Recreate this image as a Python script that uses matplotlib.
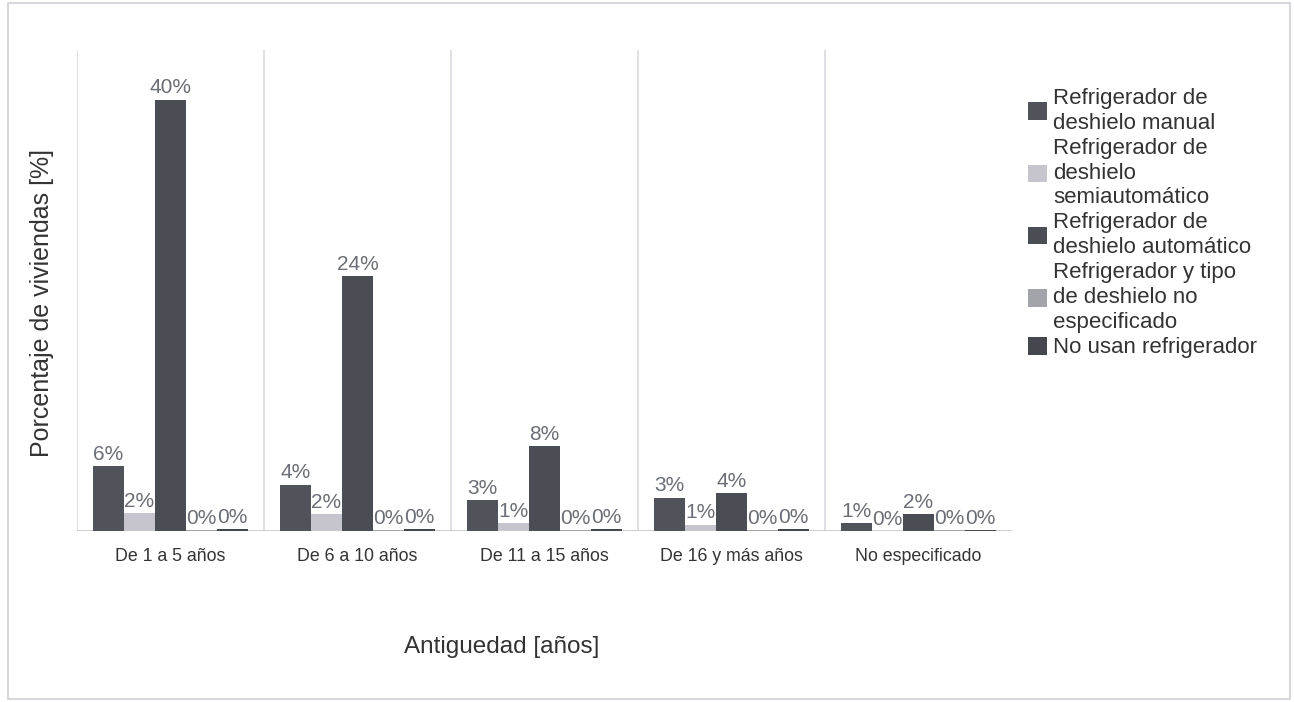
import numpy as np
import matplotlib
matplotlib.use("Agg")
import matplotlib.pyplot as plt
from matplotlib.patches import Rectangle

plt.rcParams['font.family'] = ['Liberation Sans', 'DejaVu Sans']

# antiguedad de la vivienda
categorias = ["De 1 a 5 años", "De 6 a 10 años", "De 11 a 15 años",
              "De 16 y más años", "No especificado"]

series = ["Refrigerador de\ndeshielo manual",
          "Refrigerador de\ndeshielo\nsemiautomático",
          "Refrigerador de\ndeshielo automático",
          "Refrigerador y tipo\nde deshielo no\nespecificado",
          "No usan refrigerador"]

# porcentaje de viviendas por serie
manual = [6.0, 4.3, 2.9, 3.1, 0.7]
semiautomatico = [1.7, 1.6, 0.7, 0.6, 0.0]
automatico = [40.0, 23.6, 7.9, 3.5, 1.6]
no_especificado = [0.05, 0.05, 0.05, 0.05, 0.05]
no_usan = [0.2, 0.2, 0.2, 0.2, 0.1]

valores = [manual, semiautomatico, automatico, no_especificado, no_usan]
colores = ["#505359", "#c6c5cd", "#4b4d55", "#a2a4aa", "#45474e"]

fig = plt.figure(figsize=(12.94, 7.02), dpi=100)
ax = fig.add_axes([77 / 1294, 1 - 531 / 702, 935 / 1294, 481 / 702])

x = np.arange(len(categorias))
w = 0.166
for i, (vals, c, nombre) in enumerate(zip(valores, colores, series)):
    pos = x + (i - 2) * w
    ax.bar(pos, vals, width=w, color=c, label=nombre, zorder=3)
    for p, v in zip(pos, vals):
        ax.text(p, v + 0.2, f"{v:.0f}%", ha="center", va="bottom",
                fontsize=15, color="#6b6e76", zorder=4)

# separadores entre grupos
for s in np.arange(-0.5, 4.0, 1.0):
    ax.axvline(s, color="#d9d9e1", lw=1.2, zorder=1)
ax.axhline(0, color="#c4c4cc", lw=1.2, zorder=2)

ax.set_xlim(-0.5, 4.5)
ax.set_ylim(0, 44.6)
ax.set_xticks(x)
ax.set_xticklabels(categorias, fontsize=12.8, color="#333333")
ax.tick_params(axis="x", length=0, pad=12)
ax.set_yticks([])
for sp in ax.spines.values():
    sp.set_visible(False)

fig.text(42 / 1294, 1 - 303 / 702, "Porcentaje de viviendas [%]", fontsize=18,
         color="#333333", rotation=90, ha="center", va="center")
fig.text(502 / 1294, 1 - 647 / 702, "Antiguedad [años]", fontsize=17.5,
         color="#333333", ha="center", va="center")

leg = fig.legend(loc="upper left", bbox_to_anchor=(1019 / 1294, 1 - 79 / 702),
                 frameon=False, fontsize=16, handlelength=0.85, handleheight=0.85,
                 handletextpad=0.3, labelspacing=0.18, borderaxespad=0)
for t in leg.get_texts():
    t.set_color("#333333")
    t.set_linespacing(1.24)

# marco exterior
fig.patches.append(Rectangle((8 / 1294, 3 / 702), 1282 / 1294, 696 / 702,
                             transform=fig.transFigure, fill=False,
                             edgecolor="#cfcfd8", lw=1.2))

fig.savefig("out.png", dpi=100)
